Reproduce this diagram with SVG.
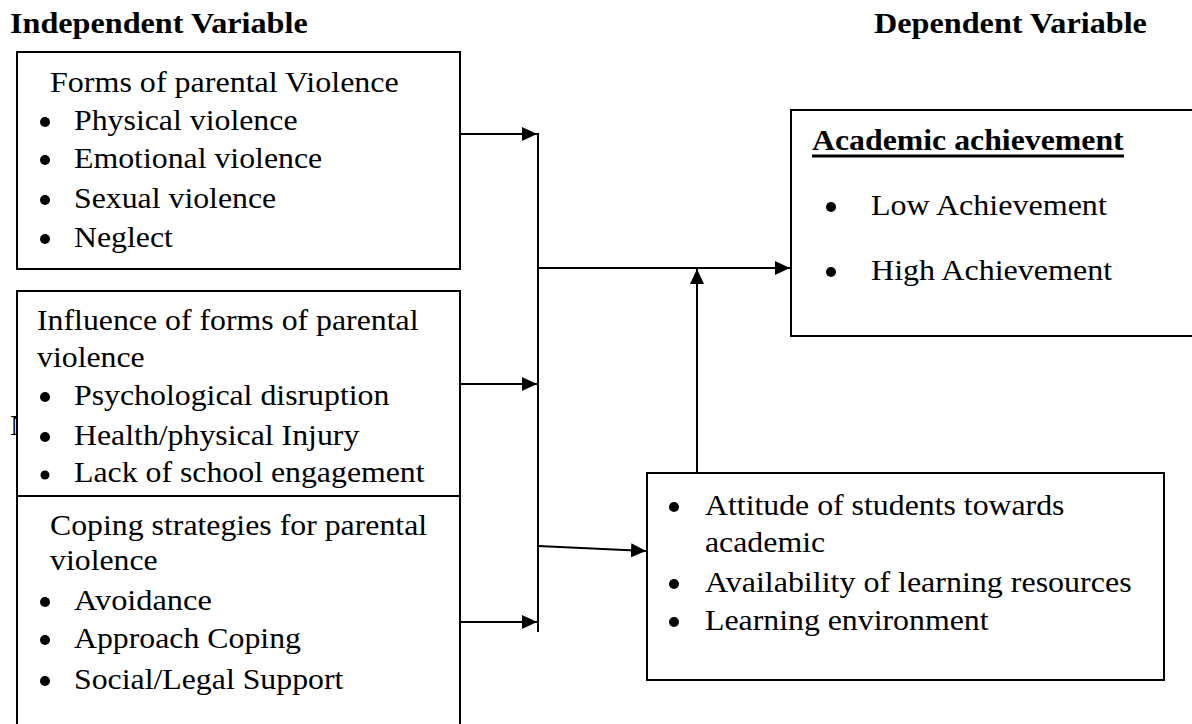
<svg xmlns="http://www.w3.org/2000/svg" width="1192" height="724" viewBox="0 0 1192 724">
  <style>
    .box { fill: #ffffff; stroke: #000000; stroke-width: 2; }
    .t { font-family: "Liberation Serif", "Times New Roman", Times, Tinos, "Nimbus Roman", serif; font-size: 30px; fill: #000000; }
    .b { font-weight: bold; }
    .dot { fill: #000000; }
    .conn { stroke: #000000; stroke-width: 2; fill: none; }
  </style>
  <defs>
    <marker id="arrow" viewBox="0 0 15 14" refX="15" refY="7" markerWidth="15" markerHeight="14" markerUnits="userSpaceOnUse" orient="auto">
      <path d="M0,0 L15,7 L0,14 z" fill="#000000"/>
    </marker>
  </defs>

  <rect x="0" y="0" width="1192" height="724" fill="#ffffff"/>

  <g id="headings">
    <text class="t b" x="10" y="33" textLength="297.7" lengthAdjust="spacingAndGlyphs">Independent Variable</text>
    <text class="t b" x="874" y="33" textLength="272.9" lengthAdjust="spacingAndGlyphs">Dependent Variable</text>
  </g>

  <text class="t" x="10" y="435">N</text>

  <g id="forms">
    <rect class="box" x="17" y="52" width="443" height="217"/>
    <text class="t" x="50" y="92" textLength="348.8" lengthAdjust="spacingAndGlyphs">Forms of parental Violence</text>
    <circle class="dot" cx="45" cy="122" r="5"/>
    <text class="t" x="74" y="130" textLength="223.5" lengthAdjust="spacingAndGlyphs">Physical violence</text>
    <circle class="dot" cx="45" cy="160" r="5"/>
    <text class="t" x="74" y="168" textLength="248.2" lengthAdjust="spacingAndGlyphs">Emotional violence</text>
    <circle class="dot" cx="45" cy="200" r="5"/>
    <text class="t" x="74" y="208" textLength="202.2" lengthAdjust="spacingAndGlyphs">Sexual violence</text>
    <circle class="dot" cx="45" cy="239" r="5"/>
    <text class="t" x="74" y="247" textLength="98.9" lengthAdjust="spacingAndGlyphs">Neglect</text>
  </g>

  <g id="influence">
    <rect class="box" x="17" y="291" width="443" height="205"/>
    <text class="t" x="37" y="330" textLength="381.5" lengthAdjust="spacingAndGlyphs">Influence of forms of parental</text>
    <text class="t" x="37" y="367" textLength="107.7" lengthAdjust="spacingAndGlyphs">violence</text>
    <circle class="dot" cx="45" cy="397" r="5"/>
    <text class="t" x="74" y="405" textLength="315.4" lengthAdjust="spacingAndGlyphs">Psychological disruption</text>
    <circle class="dot" cx="45" cy="437" r="5"/>
    <text class="t" x="74" y="445" textLength="285.3" lengthAdjust="spacingAndGlyphs">Health/physical Injury</text>
    <circle class="dot" cx="45" cy="475" r="4.5"/>
    <text class="t" x="74" y="482" textLength="350.6" lengthAdjust="spacingAndGlyphs">Lack of school engagement</text>
  </g>

  <g id="coping">
    <rect class="box" x="17" y="496" width="443" height="240"/>
    <text class="t" x="50" y="535" textLength="377.1" lengthAdjust="spacingAndGlyphs">Coping strategies for parental</text>
    <text class="t" x="50" y="570" textLength="107.7" lengthAdjust="spacingAndGlyphs">violence</text>
    <circle class="dot" cx="45" cy="602" r="5"/>
    <text class="t" x="74" y="610" textLength="137.8" lengthAdjust="spacingAndGlyphs">Avoidance</text>
    <circle class="dot" cx="45" cy="640" r="5"/>
    <text class="t" x="74" y="648" textLength="227" lengthAdjust="spacingAndGlyphs">Approach Coping</text>
    <circle class="dot" cx="45" cy="681" r="5"/>
    <text class="t" x="74" y="689" textLength="269.4" lengthAdjust="spacingAndGlyphs">Social/Legal Support</text>
  </g>

  <g id="academic">
    <rect class="box" x="791" y="110" width="420" height="226"/>
    <text class="t b" x="812" y="150" textLength="311.7" lengthAdjust="spacingAndGlyphs">Academic achievement</text>
    <rect x="812" y="154.5" width="312" height="3" fill="#000000"/>
    <circle class="dot" cx="831" cy="207" r="5"/>
    <text class="t" x="871" y="215" textLength="235.8" lengthAdjust="spacingAndGlyphs">Low Achievement</text>
    <circle class="dot" cx="831" cy="272" r="5"/>
    <text class="t" x="871" y="280" textLength="241.1" lengthAdjust="spacingAndGlyphs">High Achievement</text>
  </g>

  <g id="moderators">
    <rect class="box" x="647" y="473" width="517" height="207"/>
    <circle class="dot" cx="674" cy="507" r="5"/>
    <text class="t" x="705" y="515" textLength="359.5" lengthAdjust="spacingAndGlyphs">Attitude of students towards</text>
    <text class="t" x="705" y="552" textLength="120.1" lengthAdjust="spacingAndGlyphs">academic</text>
    <circle class="dot" cx="674" cy="584" r="5"/>
    <text class="t" x="705" y="592" textLength="426.6" lengthAdjust="spacingAndGlyphs">Availability of learning resources</text>
    <circle class="dot" cx="674" cy="622" r="5"/>
    <text class="t" x="705" y="630" textLength="283.5" lengthAdjust="spacingAndGlyphs">Learning environment</text>
  </g>

  <g id="connectors">
    <line class="conn" x1="460" y1="134" x2="537" y2="134" marker-end="url(#arrow)"/>
    <line class="conn" x1="460" y1="384" x2="537" y2="384" marker-end="url(#arrow)"/>
    <line class="conn" x1="460" y1="622" x2="537" y2="622" marker-end="url(#arrow)"/>
    <line class="conn" x1="538" y1="133" x2="538" y2="632"/>
    <line class="conn" x1="538" y1="268" x2="790" y2="268" marker-end="url(#arrow)"/>
    <line class="conn" x1="697" y1="473" x2="697" y2="269" marker-end="url(#arrow)"/>
    <line class="conn" x1="538" y1="546" x2="646" y2="551" marker-end="url(#arrow)"/>
  </g>
</svg>
